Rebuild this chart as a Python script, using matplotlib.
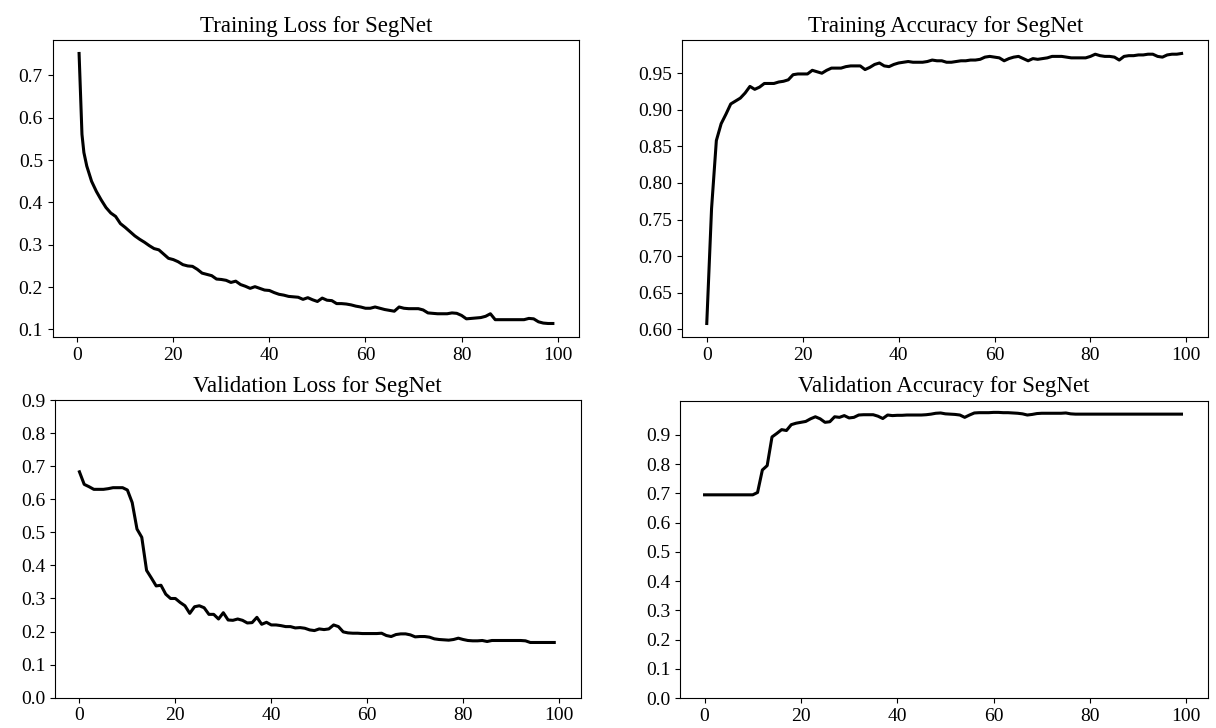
import matplotlib
matplotlib.use("Agg")
import matplotlib.pyplot as plt
from matplotlib.ticker import MultipleLocator
import numpy as np

plt.rcParams['font.family'] = ['Liberation Serif', 'DejaVu Serif']

# Data
epochs = list(range(100))
# training loss is logged a bit off the integer epochs at the very start
train_loss_epochs = [0.4, 1.0, 1.4] + list(range(2, 100))

train_loss = [0.752, 0.561, 0.518, 0.486, 0.450, 0.426, 0.406, 0.388, 0.375, 0.367,
              0.350, 0.341, 0.331, 0.321, 0.313, 0.306, 0.298, 0.291, 0.288, 0.278,
              0.268, 0.265, 0.260, 0.253, 0.250, 0.249, 0.242, 0.233, 0.230, 0.227,
              0.219, 0.218, 0.216, 0.211, 0.214, 0.206, 0.202, 0.197, 0.201, 0.197,
              0.193, 0.192, 0.187, 0.183, 0.181, 0.178, 0.177, 0.176, 0.171, 0.175,
              0.170, 0.166, 0.174, 0.169, 0.168, 0.161, 0.161, 0.160, 0.158, 0.155,
              0.153, 0.150, 0.150, 0.153, 0.150, 0.147, 0.145, 0.143, 0.153, 0.150,
              0.149, 0.149, 0.149, 0.146, 0.139, 0.138, 0.137, 0.137, 0.137, 0.139,
              0.138, 0.133, 0.125, 0.126, 0.127, 0.128, 0.131, 0.137, 0.123, 0.123,
              0.123, 0.123, 0.123, 0.123, 0.123, 0.126, 0.125, 0.118, 0.115, 0.114,
              0.114]

train_acc = [0.608, 0.765, 0.858, 0.881, 0.894, 0.908, 0.912, 0.916, 0.923, 0.932,
             0.928, 0.931, 0.936, 0.936, 0.936, 0.938, 0.939, 0.941, 0.948, 0.949,
             0.949, 0.949, 0.954, 0.952, 0.950, 0.954, 0.957, 0.957, 0.957, 0.959,
             0.960, 0.960, 0.960, 0.955, 0.958, 0.962, 0.964, 0.960, 0.959, 0.962,
             0.964, 0.965, 0.966, 0.965, 0.965, 0.965, 0.966, 0.968, 0.967, 0.967,
             0.965, 0.965, 0.966, 0.967, 0.967, 0.968, 0.968, 0.969, 0.972, 0.973,
             0.972, 0.971, 0.967, 0.970, 0.972, 0.973, 0.970, 0.967, 0.970, 0.969,
             0.970, 0.971, 0.973, 0.973, 0.973, 0.972, 0.971, 0.971, 0.971, 0.971,
             0.973, 0.976, 0.974, 0.973, 0.973, 0.972, 0.968, 0.973, 0.974, 0.974,
             0.975, 0.975, 0.976, 0.976, 0.973, 0.972, 0.975, 0.976, 0.976, 0.977]

val_loss = [0.683, 0.645, 0.638, 0.630, 0.630, 0.630, 0.632, 0.635, 0.635, 0.635,
            0.628, 0.590, 0.510, 0.485, 0.385, 0.362, 0.338, 0.340, 0.313, 0.300,
            0.300, 0.288, 0.278, 0.255, 0.275, 0.278, 0.272, 0.252, 0.252, 0.238,
            0.257, 0.235, 0.234, 0.238, 0.234, 0.226, 0.227, 0.243, 0.222, 0.228,
            0.220, 0.220, 0.218, 0.215, 0.215, 0.211, 0.212, 0.210, 0.205, 0.203,
            0.208, 0.206, 0.208, 0.220, 0.215, 0.199, 0.196, 0.195, 0.195, 0.194,
            0.194, 0.194, 0.194, 0.195, 0.188, 0.185, 0.191, 0.193, 0.193, 0.190,
            0.184, 0.185, 0.185, 0.183, 0.178, 0.176, 0.175, 0.174, 0.176, 0.180,
            0.176, 0.173, 0.172, 0.172, 0.173, 0.170, 0.173, 0.173, 0.173, 0.173,
            0.173, 0.173, 0.173, 0.172, 0.167, 0.167, 0.167, 0.167, 0.167, 0.167]

val_acc = [0.695, 0.695, 0.695, 0.695, 0.695, 0.695, 0.695, 0.695, 0.695, 0.695,
           0.695, 0.703, 0.780, 0.795, 0.893, 0.905, 0.918, 0.915, 0.935, 0.940,
           0.943, 0.946, 0.955, 0.962, 0.955, 0.943, 0.945, 0.962, 0.960, 0.966,
           0.958, 0.960, 0.968, 0.969, 0.969, 0.969, 0.964, 0.956, 0.968, 0.966,
           0.967, 0.967, 0.968, 0.968, 0.968, 0.968, 0.969, 0.971, 0.974, 0.975,
           0.972, 0.971, 0.970, 0.968, 0.960, 0.968, 0.975, 0.976, 0.976, 0.976,
           0.977, 0.977, 0.976, 0.976, 0.975, 0.974, 0.972, 0.968, 0.970, 0.973,
           0.974, 0.974, 0.974, 0.974, 0.974, 0.975, 0.972, 0.971, 0.971, 0.971,
           0.971, 0.971, 0.971, 0.971, 0.971, 0.971, 0.971, 0.971, 0.971, 0.971,
           0.971, 0.971, 0.971, 0.971, 0.971, 0.971, 0.971, 0.971, 0.971, 0.971]

fig = plt.figure(figsize=(12.16, 7.28), dpi=100)

ax1 = fig.add_axes([0.0433, 0.5371, 0.4331, 0.4080])
ax2 = fig.add_axes([0.5611, 0.5371, 0.4323, 0.4080])
ax3 = fig.add_axes([0.0452, 0.0416, 0.4323, 0.4089])
ax4 = fig.add_axes([0.5592, 0.0412, 0.4342, 0.4084])

ax1.plot(train_loss_epochs, train_loss, color='black', lw=2.2)
ax1.set_title('Training Loss for SegNet', fontsize=16.5)
ax1.yaxis.set_major_locator(MultipleLocator(0.1))

ax2.plot(epochs, train_acc, color='black', lw=2.2)
ax2.set_title('Training Accuracy for SegNet', fontsize=16.5)
ax2.yaxis.set_major_locator(MultipleLocator(0.05))

ax3.plot(epochs, val_loss, color='black', lw=2.2)
ax3.set_title('Validation Loss for SegNet', fontsize=16.5)
ax3.set_ylim(0, 0.9)
ax3.set_yticks(np.arange(0, 1.0, 0.1))

ax4.plot(epochs, val_acc, color='black', lw=2.2)
ax4.set_title('Validation Accuracy for SegNet', fontsize=16.5)
ax4.set_ylim(0, 1.017)
ax4.set_yticks(np.arange(0, 1.0, 0.1))

for ax in [ax1, ax2, ax3, ax4]:
    ax.set_xlim(-5.1, 104.5)
    ax.set_xticks([0, 20, 40, 60, 80, 100])
    ax.tick_params(labelsize=14)

fig.savefig('out.png', dpi=100)
